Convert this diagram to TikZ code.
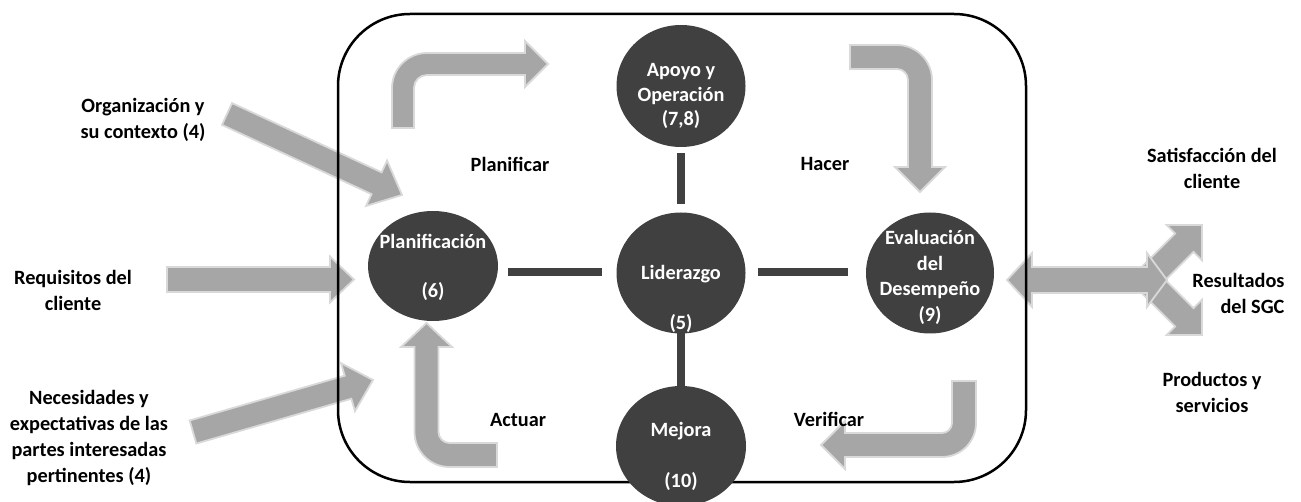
\documentclass[tikz,border=0pt]{standalone}
\usepackage{fontspec}
\setmainfont{Carlito}
\usetikzlibrary{shapes.geometric,calc}
\definecolor{dark}{HTML}{404040}
\definecolor{agray}{HTML}{A6A6A6}
\definecolor{aedge}{HTML}{D9D9D9}
% straight block arrow: tail, tip, shaft half width, head half width, head length
\newcommand\sarrow[5]{%
  \coordinate (hb) at ($(#2)!#5!(#1)$);
  \draw[blk] ($(#1)!#3!90:(#2)$) -- ($(hb)!#3!90:(#2)$) -- ($(hb)!#4!90:(#2)$) -- (#2)
    -- ($(hb)!#4!-90:(#2)$) -- ($(hb)!#3!-90:(#2)$) -- ($(#1)!#3!-90:(#2)$) -- cycle;
}
\begin{document}
\begin{tikzpicture}[x=1pt,y=-1pt,
  blk/.style={fill=agray,draw=aedge,line width=1.8pt,line join=miter},
  circ/.style={ellipse,fill=dark,draw=none,inner sep=0pt},
  bar/.style={draw=dark,line width=8pt},
  frame/.style={draw=black,line width=2.5pt,rounded corners=72pt},
  ctext/.style={text=white,font=\fontsize{20.3}{25}\selectfont\bfseries,align=center,anchor=base},
  ltext/.style={text=black,font=\fontsize{20.3}{26}\selectfont\bfseries,align=center,anchor=base}]

\useasboundingbox (0,0) rectangle (1301,502);

% ---- straight input arrows
\coordinate (o1) at (227,114); \coordinate (o2) at (402,195);
\sarrow{o1}{o2}{12pt}{25pt}{28pt}
\coordinate (r1) at (167,279.5); \coordinate (r2) at (354,279.5);
\sarrow{r1}{r2}{12.5pt}{23pt}{24pt}
\coordinate (n1) at (193,432); \coordinate (n2) at (373,380);
\sarrow{n1}{n2}{12pt}{25pt}{26pt}

% ---- output arrows
\coordinate (b0) at (1147,280); \coordinate (bu) at (1202,225); \coordinate (bl) at (1202,335);
\sarrow{b0}{bu}{13pt}{25pt}{25pt}
\sarrow{b0}{bl}{13pt}{25pt}{25pt}
\draw[blk] (1007,280) -- (1032,253) -- (1032,267) -- (1147,267) -- (1147,253) -- (1167,280)
  -- (1147,307) -- (1147,293) -- (1032,293) -- (1032,307) -- cycle;

% ---- cycle arrows
\draw[blk] (392,128) -- (392,88) .. controls (392,68.7) and (407.7,53) .. (427,53) -- (525,53)
  -- (525,41) -- (548,64) -- (525,87) -- (525,75) -- (427,75)
  .. controls (419.8,75) and (414,80.8) .. (414,88) -- (414,128) -- cycle;
\draw[blk] (850,45) -- (897,45) .. controls (916.3,45) and (932,60.7) .. (932,80) -- (932,167)
  -- (945,167) -- (920,192) -- (895,167) -- (908,167) -- (908,80)
  .. controls (908,73.9) and (903.1,69) .. (897,69) -- (850,69) -- cycle;
\draw[blk] (952,381) -- (976,381) -- (976,423) .. controls (976,441.8) and (960.8,457) .. (942,457)
  -- (845,457) -- (845,469) -- (821,445) -- (845,421) -- (845,433) -- (942,433)
  .. controls (947.5,433) and (952,428.5) .. (952,423) -- cycle;
\draw[blk] (497,443) -- (449.5,443) .. controls (443.4,443) and (438.5,438.1) .. (438.5,432)
  -- (438.5,347) -- (452,347) -- (426.5,323) -- (401,347) -- (414.5,347) -- (414.5,432)
  .. controls (414.5,451.3) and (430.2,467) .. (449.5,467) -- (497,467) -- cycle;

% ---- frame
\draw[frame] (338,14) rectangle (1026,482);

% ---- circles
\node[circ,minimum width=130pt,minimum height=110pt] (pla) at (433,266) {};
\node[circ,minimum width=129pt,minimum height=121pt] (lid) at (681,273) {};
\node[circ,minimum width=128pt,minimum height=121pt] (eva) at (930,273) {};
\node[circ,minimum width=129pt,minimum height=122pt] (apo) at (681,86) {};
\node[circ,minimum width=130pt,minimum height=120pt] (mej) at (681,446) {};

% ---- bars
\draw[bar] ($(pla.east |- lid.center)+(10,-1)$) -- ($(lid.west)+(-14,-1)$);
\draw[bar] ($(lid.east)+(12,-1)$) -- ($(eva.west)+(-18,-1)$);
\draw[bar] ($(apo.south)+(0,6)$) -- ($(lid.north)+(0,-8)$);
\draw[bar] ($(lid.south)+(0,-3)$) -- ($(mej.north)+(0,1)$);

% ---- circle texts (base anchor = baseline of last line)
\node[ctext] at (433,249) {Planificación};
\node[ctext] at (433,298) {(6)};
\node[ctext] at (681,280) {Liderazgo};
\node[ctext] at (681,330) {(5)};
\node[ctext,font=\fontsize{20.3}{25.5}\selectfont\bfseries] at (930,321.5) {Evaluación\\del\\Desempeño\\(9)};
\node[ctext,font=\fontsize{20.3}{24.5}\selectfont\bfseries] at (681,126) {Apoyo y\\Operación\\(7,8)};
\node[ctext] at (681,436) {Mejora};
\node[ctext] at (681,487) {(10)};

% ---- labels
\node[ltext] at (510,172) {Planificar};
\node[ltext] at (825,171) {Hacer};
\node[ltext] at (518,426) {Actuar};
\node[ltext] at (829,426) {Verificar};
\node[ltext] at (143,139) {Organización y\\su contexto (4)};
\node[ltext] at (73,311) {Requisitos del\\cliente};
\node[ltext] at (89,482) {Necesidades y\\expectativas de las\\partes interesadas\\pertinentes (4)};
\node[ltext] at (1212,189) {Satisfacción del\\cliente};
\node[ltext,align=right,anchor=base east] at (1288,314) {Resultados\\del SGC};
\node[ltext] at (1212,413) {Productos y\\servicios};
\end{tikzpicture}
\end{document}
